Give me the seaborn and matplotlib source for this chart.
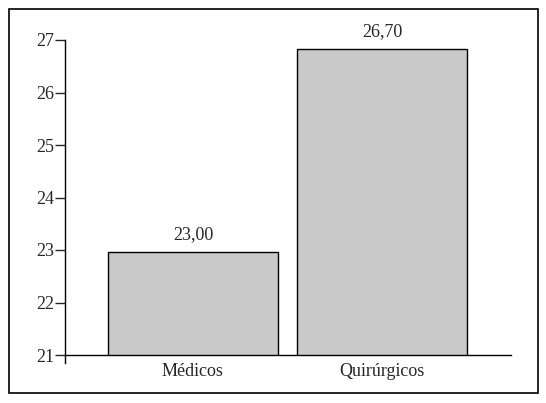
import pandas as pd
import seaborn as sns
import matplotlib.pyplot as plt
from matplotlib.patches import Rectangle

# values
grupos = ["Médicos", "Quirúrgicos"]
alturas = [22.97, 26.83]
etiquetas = ["23,00", "26,70"]
yticks = [21, 22, 23, 24, 25, 26, 27]

data = pd.DataFrame({"grupo": grupos, "valor": alturas})

sns.set_style("white")
plt.rcParams['font.family'] = ['Liberation Serif', 'DejaVu Serif']
plt.rcParams['font.size'] = 13

fig = plt.figure(figsize=(5.46, 4.03), dpi=100)
ax = fig.add_axes([65/546, 1 - 355/403, (511 - 65)/546, (355 - 40)/403])

sns.barplot(data=data, x="grupo", y="valor", color="#c9c9c9", width=0.9,
            edgecolor="black", linewidth=1, saturation=1, ax=ax)

ax.set_ylim(21, 27)
ax.set_xlim(-0.677, 1.683)
ax.set_yticks(yticks)
ax.set_yticklabels([str(t) for t in yticks])
ax.set_xlabel("")
ax.set_ylabel("")

# axis look
ax.spines['top'].set_visible(False)
ax.spines['right'].set_visible(False)
ax.spines['left'].set_bounds(20.85, 27)
ax.spines['left'].set_linewidth(1)
ax.spines['bottom'].set_linewidth(1)
ax.spines['left'].set_color("black")
ax.spines['bottom'].set_color("black")
ax.tick_params(axis='y', direction='out', length=7, width=1, pad=1, left=True, labelsize=13)
ax.tick_params(axis='x', length=0, pad=6, labelsize=13)

# value labels
for i, (v, lab) in enumerate(zip(alturas, etiquetas)):
    ax.annotate(lab, (i, v), xytext=(0, 6), textcoords="offset points",
                ha="center", va="bottom", fontsize=13)

# frame around the whole figure
fig.patches.append(Rectangle((9/546, 10/403), 529/546, 384/403, transform=fig.transFigure,
                             fill=False, edgecolor="black", linewidth=1.2))

plt.savefig("out.png", dpi=100)
